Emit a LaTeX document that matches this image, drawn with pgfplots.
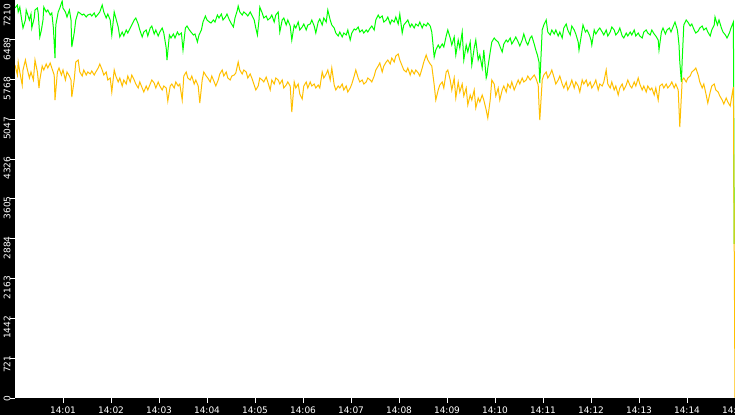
\documentclass[border=0pt]{standalone}
\usepackage{fontspec}
\setmainfont{DejaVu Sans}
\usepackage{pgfplots}
\pgfplotsset{compat=1.18}
\definecolor{lgreen}{RGB}{0,255,0}
\definecolor{gold}{RGB}{255,192,0}
\begin{document}
\begin{tikzpicture}
\fill[black] (-15bp,-17bp) rectangle (720bp,398bp);
\begin{axis}[
  at={(0,0)}, anchor=south west,
  scale only axis, width=720bp, height=398bp,
  xmin=0, xmax=900, ymin=0, ymax=7210,
  axis background/.style={fill=white},
  axis line style={draw=none},
  tick align=outside, tick pos=left,
  major tick length=5bp,
  tick style={white, line width=1bp},
  xtick={60,120,...,900},
  xticklabels={14:01,14:02,14:03,14:04,14:05,14:06,14:07,14:08,14:09,14:10,14:11,14:12,14:13,14:14,14:15},
  ytick={0,721,...,7210},
  yticklabels={0,721,1442,2163,2884,3605,4326,5047,5768,6489,7210\hspace*{6.5bp}},
  tick label style={white, font=\fontsize{9bp}{10bp}\selectfont},
  yticklabel style={xshift=-3bp, yshift=6bp, rotate=90, anchor=east},
]
% green series
\addplot[lgreen, line width=1bp] coordinates {
(0,7065)(3,7119)(4,6993)(6,7083)(8,6884)(10,6703)(13,6848)(14,7029)(16,6938)(18,6848)(20,6956)(21,6703)(24,6884)(25,7029)(28,7065)(29,6975)(31,6540)(33,6667)(35,6848)(36,7083)(39,6993)(41,7029)(44,6938)(46,6975)(48,6703)(50,6159)(51,6757)(54,6993)(56,7065)(59,7192)(60,7065)(63,6993)(65,6902)(68,7029)(70,6848)(71,6359)(74,6612)(76,6848)(79,6993)(81,6975)(84,6938)(86,6956)(89,6902)(91,6938)(94,6956)(96,6920)(99,6975)(101,6902)(104,6956)(106,6993)(109,7119)(111,6993)(114,6884)(116,6956)(119,6848)(121,6576)(124,6993)(126,6884)(129,6721)(131,6540)(134,6630)(136,6558)(139,6667)(141,6612)(144,6703)(146,6757)(149,6848)(151,6884)(154,6775)(156,6667)(159,6540)(161,6630)(164,6667)(166,6558)(169,6703)(171,6739)(174,6594)(176,6667)(179,6558)(181,6630)(184,6703)(186,6612)(189,6340)(190,6123)(193,6576)(195,6522)(198,6594)(200,6522)(203,6630)(205,6576)(208,6612)(210,6304)(213,6703)(215,6739)(218,6667)(220,6630)(223,6576)(225,6594)(228,6449)(230,6576)(233,6667)(235,6811)(238,6920)(240,6848)(243,6811)(245,6793)(248,6848)(250,6811)(253,6938)(255,6884)(258,6956)(260,6848)(263,6902)(265,6956)(268,6848)(270,6793)(273,6721)(275,6884)(278,7029)(279,7101)(281,6993)(284,6938)(286,6993)(289,6956)(291,6920)(294,6993)(296,6938)(299,6848)(301,6703)(303,6576)(305,6848)(306,7083)(309,6975)(311,6884)(314,6920)(316,6848)(319,6884)(321,6938)(324,6811)(326,6938)(329,6993)(331,6630)(334,6848)(336,6884)(339,6757)(341,6848)(344,6739)(346,6485)(349,6757)(351,6703)(354,6811)(356,6667)(359,6721)(361,6775)(364,6667)(366,6757)(369,6775)(371,6848)(374,6739)(376,6612)(379,6811)(381,6866)(384,6757)(386,6884)(389,6811)(391,7029)(394,6848)(396,6757)(399,6703)(401,6612)(404,6558)(406,6630)(409,6540)(411,6612)(414,6576)(416,6667)(419,6485)(421,6612)(424,6685)(426,6667)(429,6721)(431,6630)(434,6667)(436,6612)(439,6667)(441,6630)(444,6703)(446,6739)(449,6667)(451,6848)(454,6938)(456,6884)(459,6920)(461,6811)(464,6848)(466,6902)(469,6775)(471,6848)(474,6811)(476,6902)(479,6775)(481,6956)(484,6612)(486,6757)(489,6811)(491,6848)(494,6721)(496,6775)(499,6703)(501,6775)(504,6739)(506,6811)(509,6703)(511,6775)(514,6739)(516,6793)(519,6739)(521,6630)(524,6177)(526,6304)(529,6395)(531,6340)(534,6413)(536,6359)(539,6558)(541,6667)(544,6522)(546,6395)(549,6540)(551,6214)(554,6485)(556,6340)(559,6630)(561,6123)(564,6395)(566,6268)(569,6449)(571,6032)(574,6340)(576,6485)(579,6123)(581,6214)(584,5978)(586,6304)(589,5797)(590,5851)(591,5978)(594,6268)(596,6449)(599,6522)(601,6485)(604,6449)(606,6377)(609,6268)(611,6413)(614,6485)(616,6449)(619,6522)(621,6413)(624,6485)(626,6540)(629,6449)(631,6377)(634,6485)(636,6594)(639,6449)(641,6395)(644,6522)(646,6558)(649,6413)(651,6304)(653,6214)(655,6087)(656,5706)(659,6667)(661,6757)(664,6848)(666,6630)(669,6576)(671,6667)(674,6594)(676,6667)(679,6558)(681,6630)(684,6522)(686,6703)(689,6775)(691,6667)(694,6576)(696,6739)(699,6667)(701,6594)(704,6449)(705,6304)(708,6576)(710,6757)(713,6630)(715,6667)(718,6576)(720,6485)(721,6395)(724,6667)(726,6594)(729,6667)(731,6703)(734,6630)(736,6576)(739,6667)(741,6558)(744,6630)(746,6721)(749,6667)(751,6576)(754,6630)(756,6703)(759,6558)(761,6522)(764,6612)(766,6558)(769,6630)(771,6576)(774,6667)(776,6558)(779,6612)(781,6558)(784,6522)(786,6630)(789,6667)(791,6612)(794,6576)(796,6667)(799,6594)(801,6558)(804,6485)(805,6304)(808,6630)(810,6703)(813,6594)(815,6667)(818,6703)(820,6630)(823,6739)(825,6811)(828,6667)(829,6540)(830,6395)(831,6087)(833,5725)(834,6123)(836,6757)(839,6848)(841,6811)(844,6739)(846,6775)(849,6667)(851,6612)(854,6648)(856,6703)(859,6739)(861,6667)(864,6703)(866,6630)(869,6558)(871,6667)(874,6757)(875,6902)(878,6757)(880,6848)(883,6703)(885,6630)(888,6576)(890,6522)(893,6612)(895,6703)(898,6811)(899,2790)
};
% orange series
\addplot[gold, line width=1bp] coordinates {
(0,6032)(3,5851)(4,6087)(6,5906)(9,5670)(10,5942)(13,6123)(15,5978)(18,5797)(20,5906)(23,5761)(25,6123)(28,5906)(30,5616)(31,5761)(34,6014)(36,5942)(39,6051)(41,5978)(44,6069)(46,5978)(49,5851)(50,5398)(53,5906)(55,5978)(58,5851)(60,5942)(63,5761)(65,5906)(68,5833)(70,5761)(71,5453)(74,5761)(76,6087)(79,6123)(81,5906)(84,5833)(86,5942)(89,5851)(91,5906)(94,5870)(96,5924)(99,5851)(101,5906)(104,5978)(106,6051)(109,5942)(111,5851)(114,5906)(116,5761)(119,5797)(121,5543)(124,5942)(126,5833)(129,5725)(131,5797)(134,5652)(136,5761)(139,5688)(141,5833)(144,5725)(146,5851)(149,5761)(151,5688)(154,5616)(156,5725)(159,5616)(161,5543)(164,5652)(166,5580)(169,5688)(171,5761)(174,5706)(176,5616)(179,5725)(181,5652)(184,5580)(186,5652)(189,5616)(191,5380)(194,5652)(196,5688)(199,5616)(201,5725)(204,5652)(206,5688)(209,5398)(211,5833)(214,5906)(216,5797)(219,5761)(221,5833)(224,5688)(226,5761)(229,5652)(231,5344)(234,5761)(236,5906)(239,5833)(241,5797)(244,5725)(246,5833)(249,5725)(251,5652)(254,5761)(256,5870)(259,5942)(261,5833)(264,5906)(266,5797)(269,5761)(271,5833)(274,5851)(276,5888)(279,6087)(281,5942)(284,5870)(286,5942)(289,5906)(291,5797)(294,5870)(296,5797)(299,5670)(301,5580)(304,5652)(306,5797)(309,5761)(311,5725)(314,5815)(316,5725)(319,5580)(321,5761)(324,5688)(326,5797)(329,5761)(331,5688)(334,5761)(336,5616)(339,5670)(341,5725)(344,5652)(346,5181)(349,5725)(351,5616)(354,5688)(356,5507)(359,5417)(361,5652)(364,5725)(366,5616)(369,5725)(371,5652)(374,5688)(376,5616)(379,5670)(381,5616)(384,5906)(386,5797)(389,5870)(391,5942)(394,5761)(396,5978)(399,5670)(401,5580)(404,5652)(406,5616)(409,5688)(411,5580)(414,5652)(416,5543)(419,5616)(421,5688)(424,5833)(426,5942)(429,5797)(431,5725)(434,5761)(436,5688)(439,5725)(441,5797)(444,5761)(446,5725)(449,5833)(451,5942)(454,6014)(456,6069)(459,5906)(461,6014)(464,6087)(466,6123)(469,6051)(471,6159)(474,6087)(476,6195)(479,6232)(481,6123)(484,6014)(486,5942)(489,5906)(491,5978)(494,5851)(496,5942)(499,5870)(501,5942)(504,5888)(506,5833)(509,5978)(511,6087)(514,6214)(516,6123)(519,6051)(521,6014)(524,5670)(526,5398)(529,5580)(531,5670)(534,5725)(536,5616)(539,5906)(541,5942)(544,5761)(546,5580)(549,5797)(551,5435)(554,5725)(556,5543)(559,5688)(561,5471)(564,5616)(566,5308)(569,5489)(571,5398)(574,5580)(576,5254)(579,5435)(581,5362)(584,5489)(586,5398)(589,5217)(591,5072)(594,5398)(596,5761)(599,5688)(601,5471)(604,5616)(606,5398)(609,5580)(611,5652)(614,5543)(616,5688)(619,5616)(621,5725)(624,5580)(626,5652)(629,5761)(631,5688)(634,5797)(636,5725)(639,5761)(641,5833)(644,5761)(646,5797)(649,5851)(651,5797)(654,5670)(655,5308)(656,5036)(659,5761)(661,5851)(664,5906)(666,5797)(669,5870)(671,5942)(674,5797)(676,5688)(679,5761)(681,5833)(684,5688)(686,5616)(689,5725)(691,5580)(694,5670)(696,5761)(699,5616)(701,5725)(704,5652)(706,5543)(709,5761)(711,5688)(714,5761)(716,5652)(719,5725)(721,5616)(724,5688)(726,5761)(729,5580)(731,5688)(734,5652)(736,5725)(739,5942)(741,5688)(744,5616)(746,5725)(749,5580)(751,5652)(754,5489)(756,5616)(759,5688)(761,5580)(764,5670)(766,5761)(769,5652)(771,5616)(774,5725)(776,5652)(779,5797)(781,5688)(784,5580)(786,5652)(789,5543)(791,5652)(794,5580)(796,5616)(799,5489)(801,5616)(804,5398)(806,5652)(809,5688)(811,5616)(814,5688)(816,5616)(819,5670)(821,5725)(824,5616)(826,5688)(829,5580)(831,4909)(834,5761)(836,5797)(839,5725)(841,5797)(844,5833)(846,5906)(849,5942)(851,5978)(854,5851)(856,5725)(859,5616)(861,5688)(864,5489)(866,5344)(869,5543)(871,5652)(874,5688)(876,5580)(879,5543)(881,5471)(884,5398)(886,5326)(889,5435)(891,5362)(894,5290)(896,5471)(898,5634)(900,0)
};
\end{axis}
\pgfresetboundingbox
\useasboundingbox (-15bp,-17bp) rectangle (720bp,398bp);
\end{tikzpicture}
\end{document}
